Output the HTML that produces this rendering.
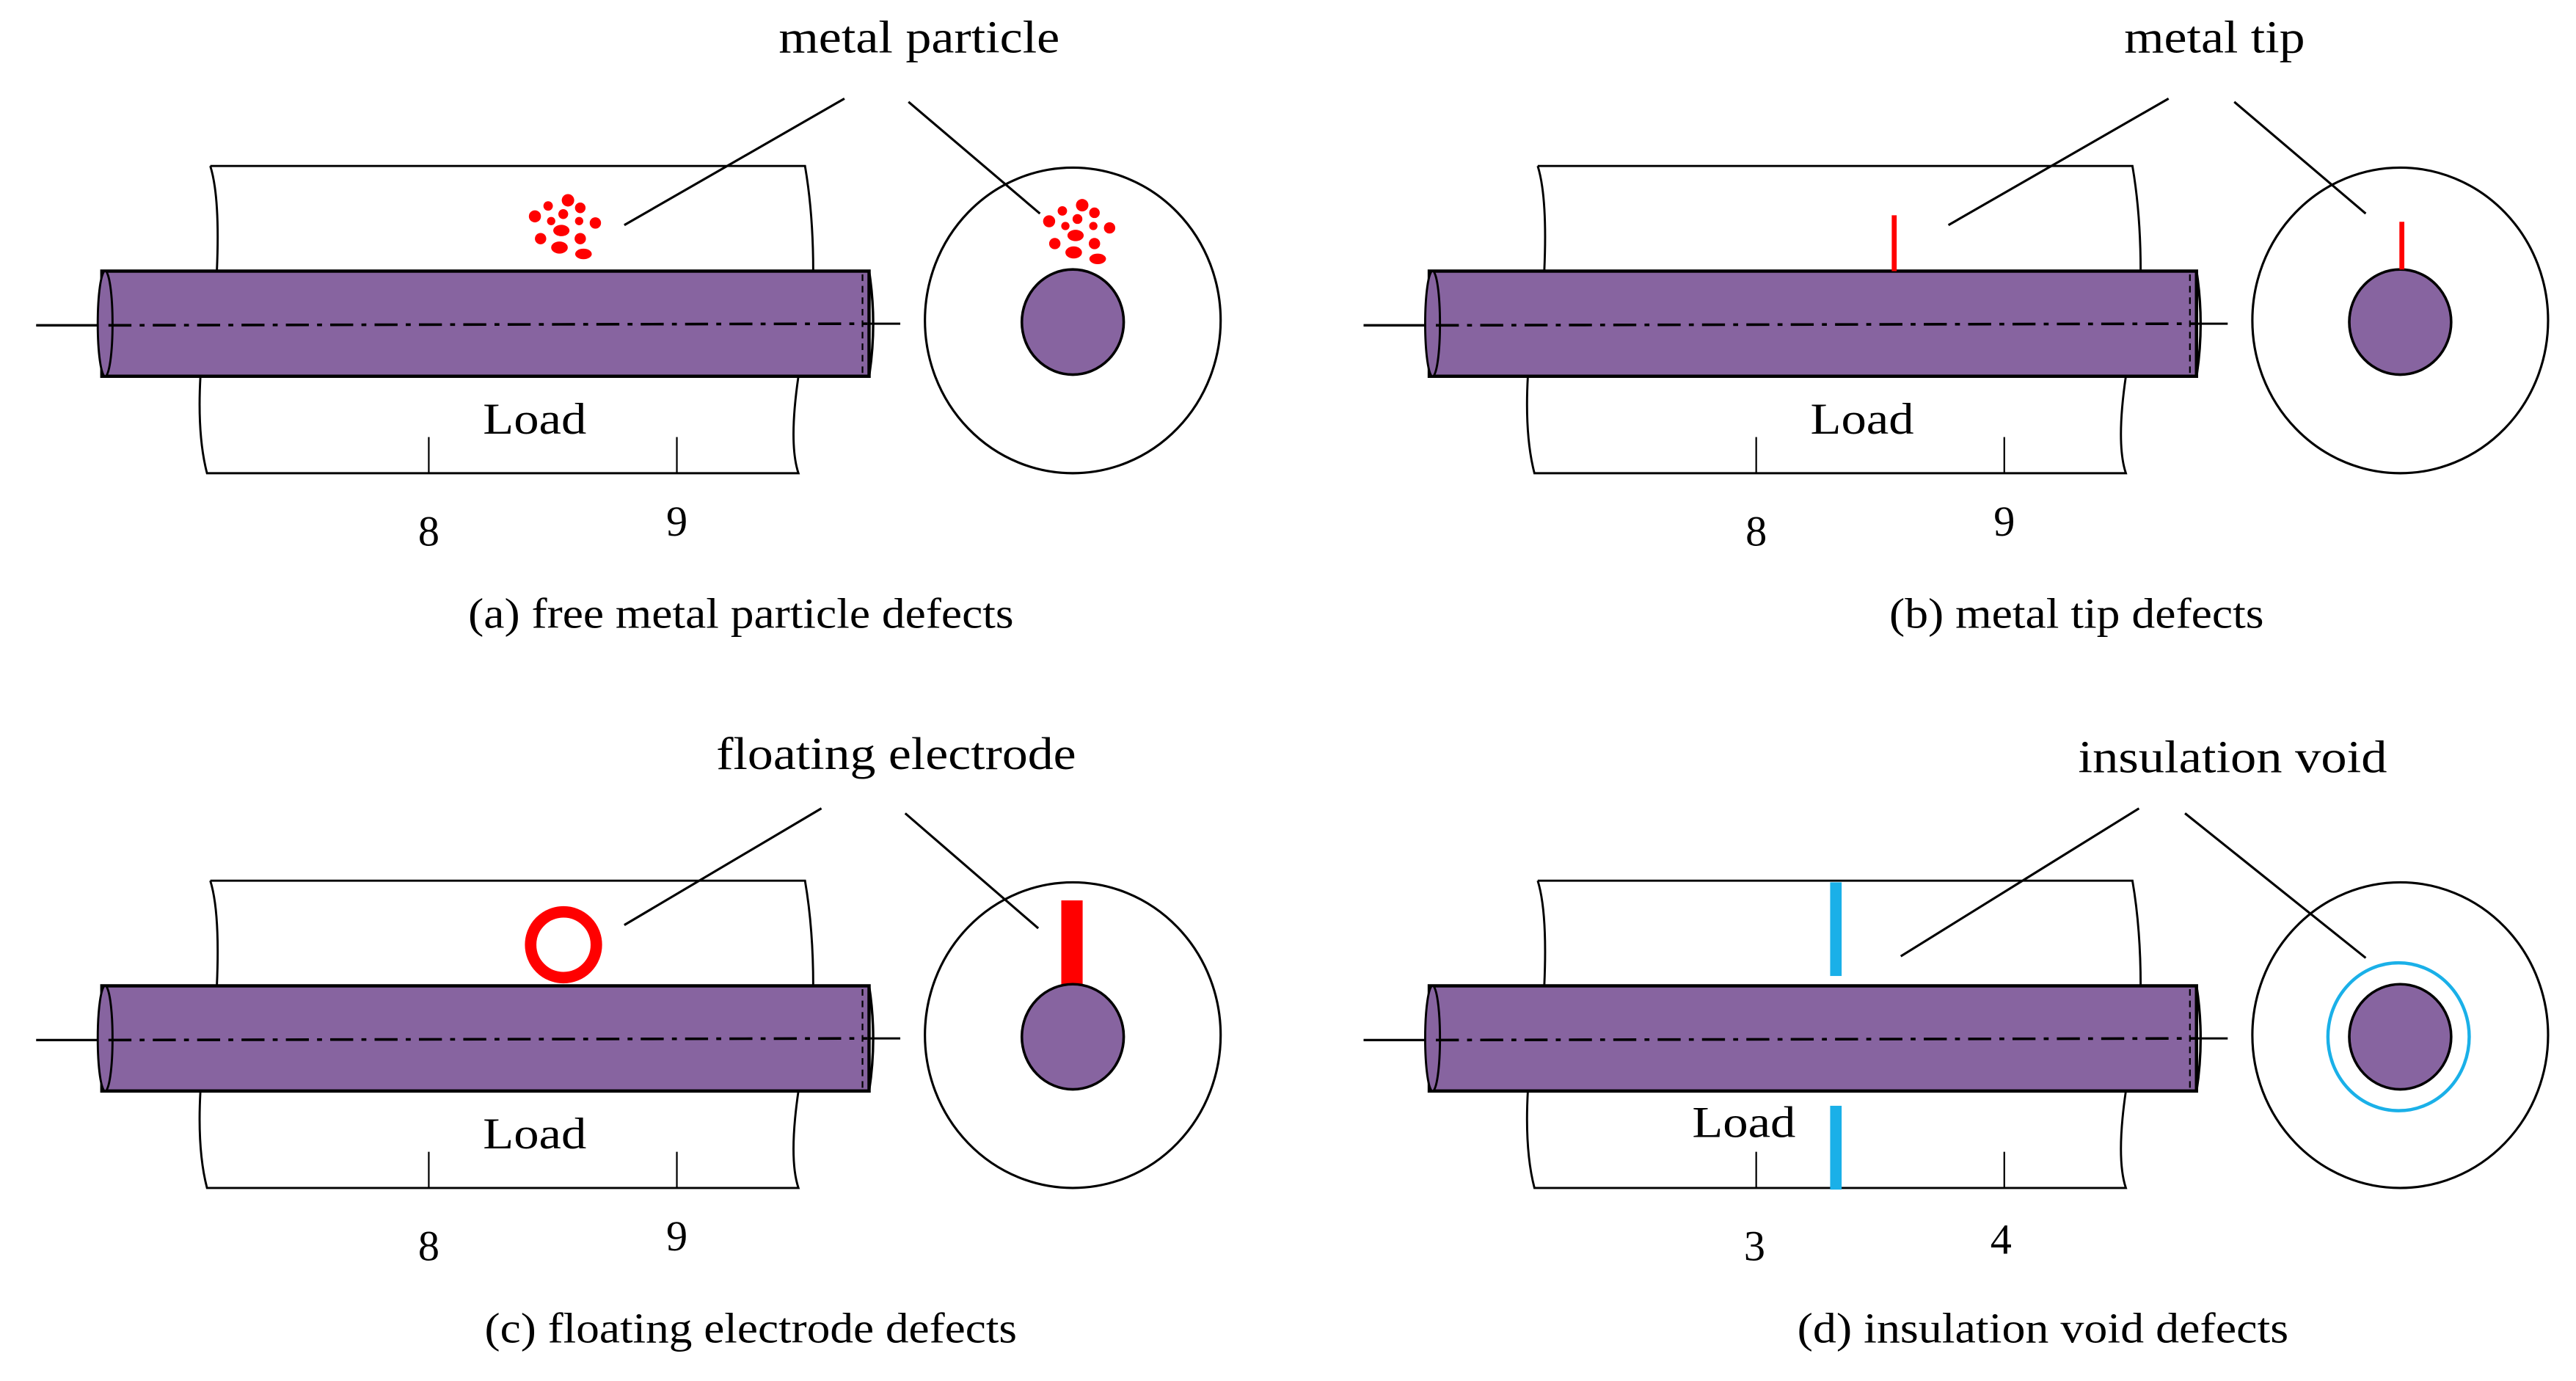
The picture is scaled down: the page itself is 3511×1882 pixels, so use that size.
<!DOCTYPE html>
<html><head><meta charset="utf-8"><style>
html,body{margin:0;padding:0;background:#fff;}
svg{display:block;}
text{font-family:"Liberation Serif",serif;fill:#000;}
</style></head><body>
<svg width="3511" height="1882" viewBox="0 0 1568 840.5" preserveAspectRatio="none" xmlns="http://www.w3.org/2000/svg">
<defs>
<g id="cable">
  <path d="M128,101 L490,101 Q495,130 495,165" fill="none" stroke="#000" stroke-width="1.3"/>
  <path d="M128,101 Q134,120 132,165" fill="none" stroke="#000" stroke-width="1.3"/>
  <path d="M122,229 Q120,265 126,288 L486,288 Q480,270 486,229" fill="none" stroke="#000" stroke-width="1.3"/>
  <line x1="22" y1="198" x2="62" y2="198" stroke="#000" stroke-width="1.5"/>
  <line x1="528" y1="197" x2="548" y2="197" stroke="#000" stroke-width="1.3"/>
  <rect x="62" y="165" width="467" height="64" fill="#8764a0" stroke="#000" stroke-width="2"/>
  <ellipse cx="64" cy="197" rx="4.5" ry="32" fill="#8764a0" stroke="#000" stroke-width="1.3"/>
  <path d="M529,165 Q534,197 529,229" fill="none" stroke="#000" stroke-width="1.5"/>
  <line x1="525" y1="167" x2="525" y2="228" stroke="#000" stroke-width="1" stroke-dasharray="4,3"/>
  <line x1="66" y1="198" x2="528" y2="197" stroke="#000" stroke-width="1.6" stroke-dasharray="14,5,3,5"/>
  <line x1="261" y1="266" x2="261" y2="288" stroke="#000" stroke-width="1"/>
  <line x1="412" y1="266" x2="412" y2="288" stroke="#000" stroke-width="1"/>
  <ellipse cx="653" cy="195" rx="90" ry="93" fill="none" stroke="#000" stroke-width="1.4"/>
</g>
<g id="core"><ellipse cx="653" cy="196" rx="31" ry="32" fill="#8764a0" stroke="#000" stroke-width="1.6"/></g>
<g id="dots" fill="#ff0000">
  <circle cx="1.5" cy="-14" r="3.3"/><circle cx="-9" cy="-11" r="2.5"/><circle cx="8" cy="-10" r="2.8"/>
  <circle cx="-16" cy="-5.5" r="3.2"/><circle cx="-1" cy="-6.7" r="2.6"/><circle cx="-7.4" cy="-3" r="2.2"/>
  <circle cx="7.4" cy="-3" r="2.2"/><circle cx="16" cy="-2" r="3"/><ellipse cx="-2" cy="2" rx="4.3" ry="3"/>
  <circle cx="-13" cy="6.3" r="3"/><circle cx="8" cy="6.3" r="3"/><ellipse cx="-3" cy="11" rx="4.4" ry="3.2"/>
  <ellipse cx="9.7" cy="14.4" rx="4.4" ry="2.8"/>
</g>
</defs>

<!-- (a) -->
<use href="#cable"/>
<use href="#core"/>
<text x="294" y="264" font-size="27" textLength="63" lengthAdjust="spacingAndGlyphs">Load</text>
<text x="261" y="332" font-size="26" text-anchor="middle">8</text>
<text x="412" y="326" font-size="26" text-anchor="middle">9</text>
<text x="285" y="382" font-size="26" textLength="332" lengthAdjust="spacingAndGlyphs">(a) free metal particle defects</text>
<text x="474" y="32" font-size="28" textLength="171" lengthAdjust="spacingAndGlyphs">metal particle</text>
<use href="#dots" transform="translate(344,138) scale(1.15)"/>
<use href="#dots" transform="translate(657,141) scale(1.15)"/>
<line x1="514" y1="60" x2="380" y2="137" stroke="#000" stroke-width="1.4"/>
<line x1="553" y1="62" x2="633" y2="130" stroke="#000" stroke-width="1.4"/>

<!-- (b) -->
<g transform="translate(808,0)">
<use href="#cable"/>
<use href="#core"/>
<text x="294" y="264" font-size="27" textLength="63" lengthAdjust="spacingAndGlyphs">Load</text>
<text x="261" y="332" font-size="26" text-anchor="middle">8</text>
<text x="412" y="326" font-size="26" text-anchor="middle">9</text>
<line x1="345" y1="131" x2="345" y2="165" stroke="#ff0000" stroke-width="3"/>
<line x1="654" y1="135" x2="654" y2="164" stroke="#ff0000" stroke-width="3"/>
<line x1="512" y1="60" x2="378" y2="137" stroke="#000" stroke-width="1.4"/>
<line x1="552" y1="62" x2="632" y2="130" stroke="#000" stroke-width="1.4"/>
</g>
<text x="1150" y="382" font-size="26" textLength="228" lengthAdjust="spacingAndGlyphs">(b) metal tip defects</text>
<text x="1293" y="32" font-size="28" textLength="110" lengthAdjust="spacingAndGlyphs">metal tip</text>

<!-- (c) -->
<g transform="translate(0,435)">
<use href="#cable"/>
<rect x="646" y="113" width="13" height="54" fill="#ff0000"/>
<use href="#core"/>
<text x="294" y="264" font-size="27" textLength="63" lengthAdjust="spacingAndGlyphs">Load</text>
<text x="261" y="332" font-size="26" text-anchor="middle">8</text>
<text x="412" y="326" font-size="26" text-anchor="middle">9</text>
<circle cx="343" cy="140" r="20" fill="none" stroke="#ff0000" stroke-width="7"/>
<line x1="500" y1="57" x2="380" y2="128" stroke="#000" stroke-width="1.4"/>
<line x1="551" y1="60" x2="632" y2="130" stroke="#000" stroke-width="1.4"/>
</g>
<text x="295" y="817" font-size="26" textLength="324" lengthAdjust="spacingAndGlyphs">(c) floating electrode defects</text>
<text x="436" y="468" font-size="28" textLength="219" lengthAdjust="spacingAndGlyphs">floating electrode</text>

<!-- (d) -->
<g transform="translate(808,435)">
<use href="#cable"/>
<ellipse cx="652" cy="196" rx="43" ry="45" fill="none" stroke="#1ab0e8" stroke-width="2"/>
<use href="#core"/>
<rect x="306" y="102" width="7" height="57" fill="#1ab0e8"/>
<rect x="306" y="238" width="7" height="51" fill="#1ab0e8"/>
<text x="222" y="257" font-size="27" textLength="63" lengthAdjust="spacingAndGlyphs">Load</text>
<text x="260" y="332" font-size="26" text-anchor="middle">3</text>
<text x="410" y="328" font-size="26" text-anchor="middle">4</text>
<line x1="494" y1="57" x2="349" y2="147" stroke="#000" stroke-width="1.4"/>
<line x1="522" y1="60" x2="632" y2="148" stroke="#000" stroke-width="1.4"/>
</g>
<text x="1094" y="817" font-size="26" textLength="299" lengthAdjust="spacingAndGlyphs">(d) insulation void defects</text>
<text x="1265" y="470" font-size="28" textLength="188" lengthAdjust="spacingAndGlyphs">insulation void</text>
</svg>
</body></html>
